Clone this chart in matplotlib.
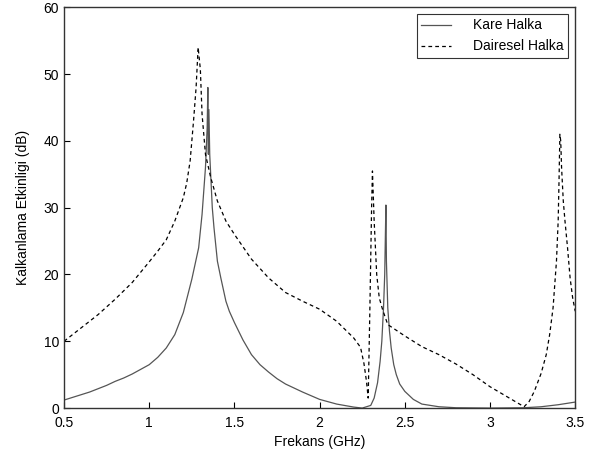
import numpy as np
import matplotlib.pyplot as plt

plt.rcParams['font.family'] = ['Liberation Sans', 'DejaVu Sans']

# Kare Halka (duz cizgi)
kare_f = [0.5, 0.55, 0.6, 0.65, 0.7, 0.75, 0.8, 0.85, 0.9, 0.95, 1.0, 1.05, 1.1, 1.15,
          1.2, 1.25, 1.29, 1.31, 1.33, 1.34, 1.344, 1.347, 1.35, 1.355, 1.37, 1.38,
          1.4, 1.42, 1.45, 1.47, 1.5, 1.55, 1.6, 1.65, 1.7, 1.75, 1.8, 1.9, 2.0,
          2.1, 2.2, 2.25, 2.3, 2.32, 2.34, 2.355, 2.365, 2.375, 2.382, 2.386, 2.389,
          2.392, 2.40, 2.41, 2.42, 2.435, 2.45, 2.47, 2.5, 2.55, 2.6, 2.7, 2.8,
          3.0, 3.2, 3.3, 3.4, 3.5]
kare_db = [1.2, 1.6, 2.0, 2.4, 2.9, 3.4, 4.0, 4.5, 5.1, 5.8, 6.5, 7.6, 9.0, 11.0,
           14.3, 19.3, 24.0, 29.0, 36.0, 42.0, 48.0, 38.0, 44.7, 38.0, 30.0, 27.0,
           22.0, 19.5, 16.0, 14.5, 12.8, 10.2, 8.0, 6.5, 5.4, 4.4, 3.6, 2.4, 1.3,
           0.6, 0.15, 0.0, 0.4, 1.5, 3.8, 7.0, 10.0, 15.0, 20.0, 26.0, 30.4,
           22.0, 15.0, 11.5, 9.0, 6.5, 5.0, 3.6, 2.5, 1.3, 0.6, 0.2, 0.05,
           0.0, 0.05, 0.2, 0.5, 0.9]

# Dairesel Halka (kesikli cizgi)
daire_f = [0.5, 0.6, 0.7, 0.8, 0.9, 1.0, 1.05, 1.1, 1.15, 1.2, 1.22, 1.24, 1.26, 1.275,
           1.287, 1.30, 1.31, 1.33, 1.36, 1.4, 1.45, 1.5, 1.6, 1.7, 1.8, 1.9, 2.0,
           2.1, 2.2, 2.24, 2.26, 2.275, 2.285, 2.295, 2.305, 2.31, 2.32, 2.335, 2.35,
           2.37, 2.4, 2.5, 2.6, 2.7, 2.8, 2.9, 3.0, 3.1, 3.2, 3.23, 3.26, 3.3, 3.33,
           3.35, 3.37, 3.39, 3.40, 3.405, 3.41, 3.415, 3.42, 3.43, 3.44, 3.455,
           3.47, 3.485, 3.5]
daire_db = [10.0, 12.0, 14.0, 16.3, 18.8, 21.9, 23.5, 25.2, 28.0, 31.5, 33.7, 37.0, 43.0, 48.0,
            54.0, 50.7, 44.0, 38.0, 34.6, 31.0, 28.0, 26.0, 22.3, 19.5, 17.3, 16.0, 14.8,
            13.0, 10.5, 9.1, 6.7, 4.0, 1.5, 15.0, 30.0, 35.5, 28.0, 20.0, 16.5,
            14.7, 12.5, 10.8, 9.2, 8.0, 6.6, 5.0, 3.2, 1.7, 0.2, 1.0, 2.5, 5.2, 8.0,
            11.0, 15.0, 22.0, 28.0, 34.0, 41.0, 40.0, 36.0, 31.0, 28.0, 24.0,
            19.5, 16.5, 14.5]

fig = plt.figure(figsize=(5.93, 4.58), dpi=100)
ax = fig.add_axes([0.108, 0.109, 0.862, 0.875])

ax.plot(kare_f, kare_db, color='#555555', lw=0.9, label='Kare Halka')
ax.plot(daire_f, daire_db, color='black', lw=0.9, dashes=(3, 2.5), label='Dairesel Halka')

ax.set_xlim(0.5, 3.5)
ax.set_ylim(0, 60)
ax.set_xticks([0.5, 1, 1.5, 2, 2.5, 3, 3.5])
ax.set_xticklabels(['0.5', '1', '1.5', '2', '2.5', '3', '3.5'])
ax.set_yticks(range(0, 61, 10))
ax.tick_params(direction='in', length=4, labelsize=10, top=False, right=False)
ax.tick_params(axis='x', pad=6)
for s in ax.spines.values():
    s.set_color('#333333')
    s.set_linewidth(1.0)

ax.set_xlabel('Frekans (GHz)', fontsize=10, labelpad=3)
ax.set_ylabel('Kalkanlama Etkinligi (dB)', fontsize=10, labelpad=10)

leg = ax.legend(loc='upper right', fontsize=10, frameon=True, fancybox=False,
                handlelength=2.2, handletextpad=1.6, borderpad=0.3,
                borderaxespad=0.5)
leg.get_frame().set_edgecolor('black')
leg.get_frame().set_linewidth(0.8)

fig.savefig('out.png', dpi=100)
